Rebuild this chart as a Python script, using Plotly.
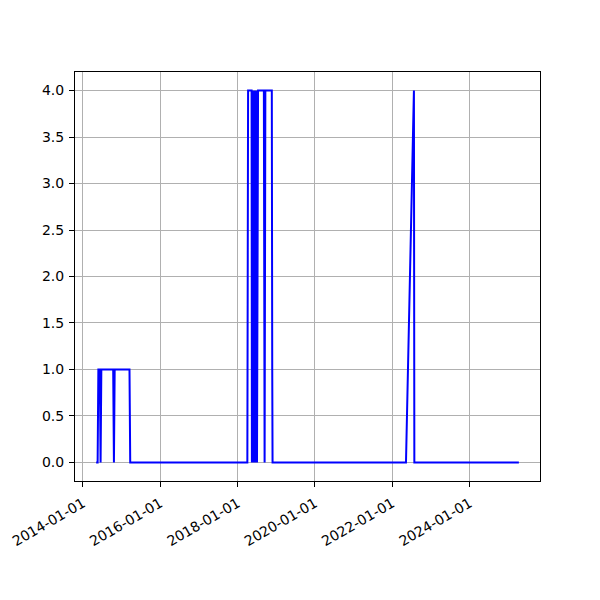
import plotly.graph_objects as go
import pandas as pd

dates = [
    "2014-05-06", "2014-05-20", "2014-05-27", "2014-06-10", "2014-06-17", "2014-06-24",
    "2014-10-14", "2014-10-21", "2014-10-28", "2015-03-17", "2015-03-24",
    "2018-04-03", "2018-04-10",
    "2018-05-13", "2018-05-16", "2018-05-19", "2018-05-22", "2018-05-25", "2018-05-28",
    "2018-05-31", "2018-06-03", "2018-06-06", "2018-06-09", "2018-06-12", "2018-06-15",
    "2018-06-18", "2018-06-21", "2018-06-24", "2018-06-27", "2018-06-30", "2018-07-03",
    "2018-07-06", "2018-07-09", "2018-07-13",
    "2018-09-06", "2018-09-13", "2018-09-20",
    "2018-11-20", "2018-11-24", "2018-11-27",
    "2022-05-10", "2022-07-24", "2022-07-28",
    "2025-04-10",
]
values = [
    0, 0, 1, 1, 0, 1,
    1, 0, 1, 1, 0,
    0, 4,
    4, 0, 4, 0, 4, 0,
    4, 0, 4, 0, 4, 0,
    4, 0, 4, 0, 4, 0,
    4, 0, 4,
    4, 0, 4,
    4, 1, 0,
    0, 4, 0,
    0,
]
x_ticks = ["2014-01-01", "2016-01-01", "2018-01-01", "2020-01-01", "2022-01-01", "2024-01-01"]
y_ticks = [0.0, 0.5, 1.0, 1.5, 2.0, 2.5, 3.0, 3.5, 4.0]

dt = pd.to_datetime(dates)
span = dt.max() - dt.min()
x_range = [(dt.min() - span * 0.05).strftime("%Y-%m-%d %H:%M:%S"),
           (dt.max() + span * 0.05).strftime("%Y-%m-%d %H:%M:%S")]
vspan = max(values) - min(values)
y_range = [min(values) - vspan * 0.05, max(values) + vspan * 0.05]

fig = go.Figure()
fig.add_trace(go.Scatter(x=dt, y=values, mode="lines",
                         line=dict(color="#0000ff", width=2), showlegend=False))

axis_common = dict(showline=True, linecolor="black", linewidth=1, mirror=True,
                   ticks="outside", ticklen=5, tickwidth=1, tickcolor="black",
                   showgrid=True, gridcolor="#b0b0b0", gridwidth=1, zeroline=False,
                   automargin=False,
                   tickfont=dict(family="DejaVu Sans", size=14, color="black"))

fig.update_layout(
    width=600, height=600,
    margin=dict(l=67, r=68, t=64, b=127),
    paper_bgcolor="white", plot_bgcolor="white",
    xaxis=dict(range=x_range, tickvals=x_ticks, ticktext=x_ticks,
               tickangle=-30, ticklabelstandoff=3, **axis_common),
    yaxis=dict(range=y_range, tickvals=y_ticks, tickformat=".1f",
               ticklabelstandoff=2, **axis_common),
)
fig.write_html("out.html")
